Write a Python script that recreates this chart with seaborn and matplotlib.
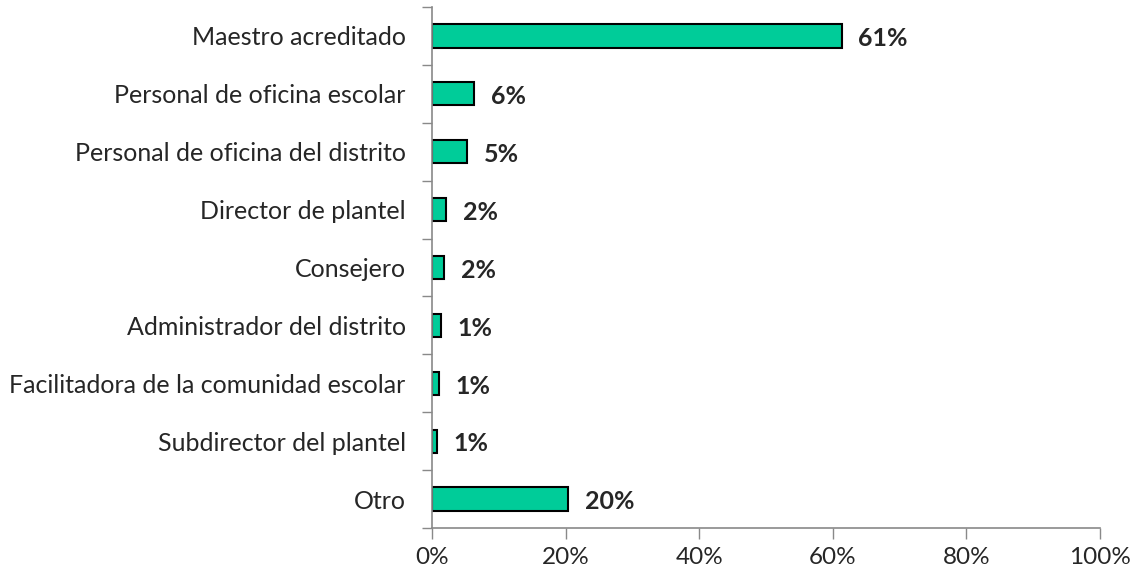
import matplotlib
matplotlib.use("Agg")
import matplotlib.pyplot as plt
import seaborn as sns
import pandas as pd
from matplotlib.ticker import FixedLocator

categories = [
    "Maestro acreditado",
    "Personal de oficina escolar",
    "Personal de oficina del distrito",
    "Director de plantel",
    "Consejero",
    "Administrador del distrito",
    "Facilitadora de la comunidad escolar",
    "Subdirector del plantel",
    "Otro",
]
values = [61.3, 6.3, 5.2, 2.1, 1.8, 1.3, 1.0, 0.7, 20.4]
value_labels = ["61%", "6%", "5%", "2%", "2%", "1%", "1%", "1%", "20%"]
x_ticks = [0, 20, 40, 60, 80, 100]

df = pd.DataFrame({"rol": categories, "pct": values})

sns.set_style("white")
plt.rcParams["font.family"] = ["Lato", "DejaVu Sans"]

fig = plt.figure(figsize=(11.39, 5.76), dpi=100)
ax = fig.add_axes([0.3793, 0.0833, 0.5865, 0.9045])

sns.barplot(data=df, x="pct", y="rol", orient="h", color="#00CC99",
            edgecolor="black", linewidth=1.5, width=0.4, saturation=1, ax=ax)

ax.set_xlim(0, 100)
ax.set_ylim(len(categories) - 0.5, -0.5)
ax.set_xlabel("")
ax.set_ylabel("")

ax.set_xticks(x_ticks)
ax.set_xticklabels([f"{t}%" for t in x_ticks], fontsize=17.5)
ax.tick_params(axis="x", direction="out", length=8, width=1, color="#898989",
               pad=6, bottom=True)

ax.tick_params(axis="y", which="major", length=0, labelsize=18, pad=19)
ax.yaxis.set_minor_locator(FixedLocator([i - 0.5 for i in range(len(categories) + 1)]))
ax.tick_params(axis="y", which="minor", direction="out", length=7, width=1,
               color="#898989", left=True)

for side in ["top", "right"]:
    ax.spines[side].set_visible(False)
for side in ["left", "bottom"]:
    ax.spines[side].set_color("#898989")
    ax.spines[side].set_linewidth(1.2)

for i, (v, lab) in enumerate(zip(values, value_labels)):
    ax.annotate(lab, xy=(v, i), xytext=(12, -2), textcoords="offset points",
                ha="left", va="center", fontsize=18, fontweight="bold")

fig.savefig("out.png", dpi=100)
